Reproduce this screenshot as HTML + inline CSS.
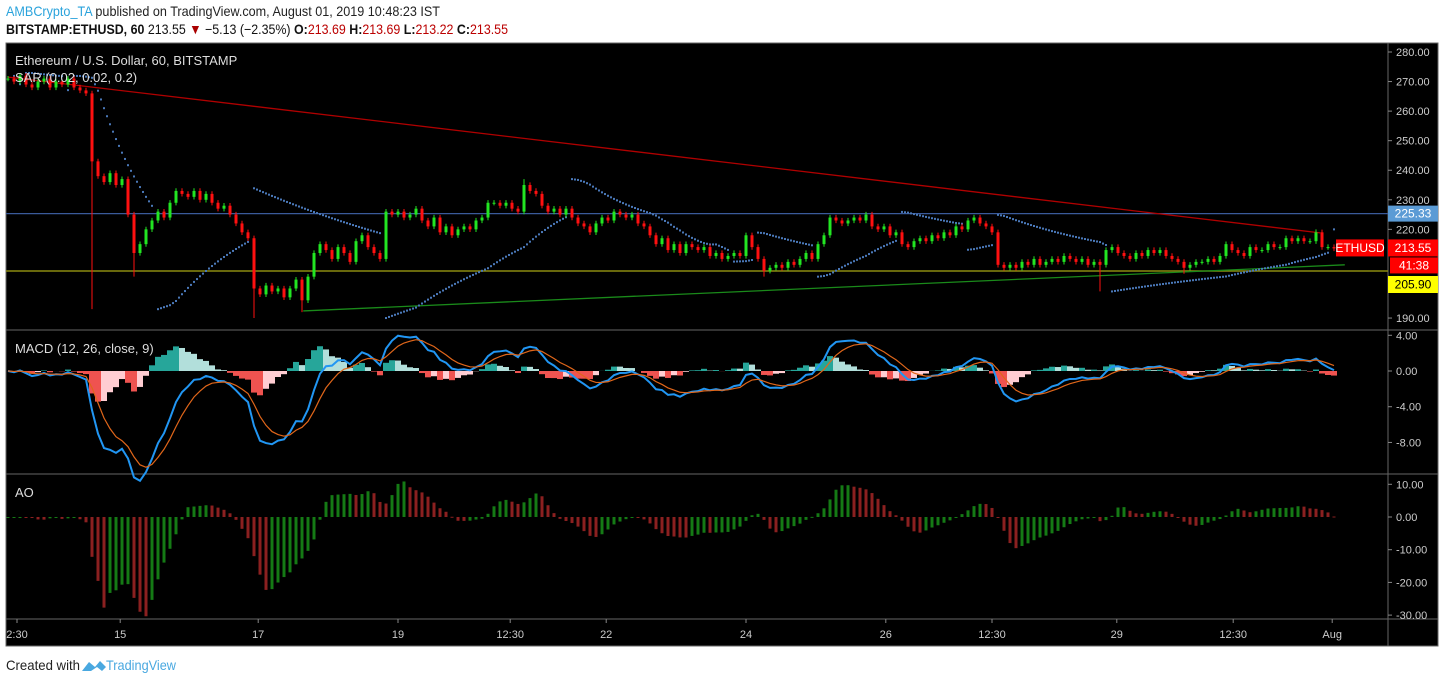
<!DOCTYPE html>
<html><head><meta charset="utf-8"><style>
html,body{margin:0;padding:0;background:#fff;width:1444px;height:683px;overflow:hidden}
svg text{font-family:"Liberation Sans",sans-serif}
</style></head><body>
<svg id="chart" width="1444" height="683" viewBox="0 0 1444 683" xmlns="http://www.w3.org/2000/svg">
<rect x="0" y="0" width="1444" height="683" fill="#fff"/>
<text x="6" y="16" font-size="14" fill="#222" textLength="434" lengthAdjust="spacingAndGlyphs"><tspan fill="#2aa3dc">AMBCrypto_TA</tspan> published on TradingView.com, August 01, 2019 10:48:23 IST</text>
<text x="6" y="34" font-size="14" fill="#111" textLength="502" lengthAdjust="spacingAndGlyphs"><tspan font-weight="bold">BITSTAMP:ETHUSD, 60</tspan> 213.55 <tspan fill="#a00">▼</tspan> −5.13 (−2.35%) <tspan font-weight="bold">O:</tspan><tspan fill="#b00">213.69</tspan> <tspan font-weight="bold">H:</tspan><tspan fill="#b00">213.69</tspan> <tspan font-weight="bold">L:</tspan><tspan fill="#b00">213.22</tspan> <tspan font-weight="bold">C:</tspan><tspan fill="#b00">213.55</tspan></text>
<rect x="6" y="43" width="1432" height="603" fill="#000" stroke="#666" stroke-width="1"/>
<g id="grid"></g>
<g id="marks"></g>
<g id="overlay"></g>
<text x="15" y="65" font-size="13" fill="#ddd">Ethereum / U.S. Dollar, 60, BITSTAMP</text>
<text x="15" y="82" font-size="13" fill="#ddd">SAR (0.02, 0.02, 0.2)</text>
<text x="15" y="353" font-size="13" fill="#ddd">MACD (12, 26, close, 9)</text>
<text x="15" y="497" font-size="13" fill="#ddd">AO</text>
<text x="6" y="670" font-size="14" fill="#222" textLength="74" lengthAdjust="spacingAndGlyphs">Created with</text>
<path d="M82 671 L89 662 L95 667 L100 661 L106 667 L102 671 L97 667 L91 671 Z" fill="#49a8e0"/>
<text x="106" y="670" font-size="14" fill="#49a8e0" textLength="70" lengthAdjust="spacingAndGlyphs">TradingView</text>
</svg>
<script>
const closes=[271,270,272,269,268,270,271,268,270,269,271,268,267,266,
243,238,236,239,235,237,225,212,215,220,223,226,224,229,233,232,
231,233,230,232,229,227,228,225,222,219,217,200,198,201,199,200,
197,200,203,196,204,212,215,213,210,214,212,209,216,218,214,212,
210,226,225,226,224,225,227,223,221,224,219,221,218,220,221,220,
223,224,229,229,228,229,227,226,235,233,232,228,226,227,225,227,
224,222,221,219,222,224,223,226,225,224,225,222,221,218,215,217,
213,215,212,215,214,213,214,211,212,210,211,212,211,218,214,210,
206,207,208,207,209,208,210,212,210,215,218,224,223,222,223,224,
223,225,221,220,221,218,219,215,214,216,217,216,218,217,219,218,
221,220,223,224,222,221,219,208,207,208,207,209,208,210,208,209,
210,209,211,210,209,210,208,209,208,213,214,212,211,210,212,211,
213,212,213,211,210,209,207,208,209,209,210,209,211,215,213,212,
211,214,213,213,215,214,214,217,216,217,216,216,219,214,214,213.55];
const lowOverrides={14:193,21:204,41:190,49:192,126:204,182:199,196:205};
const highOverrides={86:237,218:220};
const priceTicks=[280,270,260,250,240,230,220,200,190];
const macdTicks=[4,0,-4,-8];
const aoTicks=[10,0,-10,-20,-30];
const timeLabels=["2:30","15","17","19","12:30","22","24","26","12:30","29","12:30","Aug"];
const timeIdx=[1.5,18.7,41.7,65,83.7,99.7,123,146.3,164,184.8,204.2,220.7];
const hLevels=[225.33,205.9];
const redTrend=[[0,271.5],[218.7,218.8]];
const greenTrend=[[49.2,192.4],[222.8,208]];

const NS="http://www.w3.org/2000/svg";
const X=i=>8+i*6;
const YP=p=>52+(280-p)*2.956;
const YM=v=>371-v*8.93;
const YA=v=>517-v*3.27;
const marks=document.getElementById('marks'),grid=document.getElementById('grid'),ov=document.getElementById('overlay');
function el(tag,attrs,parent){const e=document.createElementNS(NS,tag);for(const k in attrs)e.setAttribute(k,attrs[k]);parent.appendChild(e);return e;}

const opens=closes.map((c,i)=>i?closes[i-1]:c);
const highs=closes.map((c,i)=>highOverrides[i]!==undefined?highOverrides[i]:Math.max(c,opens[i])+0.9);
const lows=closes.map((c,i)=>lowOverrides[i]!==undefined?lowOverrides[i]:Math.min(c,opens[i])-0.9);

el('line',{x1:1388,y1:43,x2:1388,y2:646,stroke:'#666'},grid);
[330,474,619].forEach(y=>el('line',{x1:6,y1:y,x2:1438,y2:y,stroke:'#666'},grid));
function tick(y,txt,name){
  el('line',{x1:1388,y1:y,x2:1392,y2:y,stroke:'#888'},grid);
  const t=el('text',{x:1396,y:y+4,'font-size':11,fill:'#ccc'},grid);t.textContent=txt;
  
  
}
priceTicks.forEach(p=>tick(YP(p),p.toFixed(2),'price-tick-label'));
macdTicks.forEach(v=>tick(YM(v),v.toFixed(2),'macd-tick-label'));
aoTicks.forEach(v=>tick(YA(v),v.toFixed(2),'ao-tick-label'));
timeLabels.forEach((s,k)=>{
  const x=X(timeIdx[k]);
  el('line',{x1:x,y1:619,x2:x,y2:623,stroke:'#888'},grid);
  const t=el('text',{x:x,y:638,'font-size':11,fill:'#ccc','text-anchor':'middle'},grid);t.textContent=s;
  
  
});

const hl1=el('line',{x1:6,x2:1388,y1:YP(hLevels[0]),y2:YP(hLevels[0]),stroke:'#3a5a9a','stroke-width':1.2},marks);


const hl2=el('line',{x1:6,x2:1388,y1:YP(hLevels[1]),y2:YP(hLevels[1]),stroke:'#8a8a10','stroke-width':1.5},marks);


const rt=el('line',{x1:X(redTrend[0][0]),y1:YP(redTrend[0][1]),x2:X(redTrend[1][0]),y2:YP(redTrend[1][1]),stroke:'#b00000','stroke-width':1.3},marks);


const gt=el('line',{x1:X(greenTrend[0][0]),y1:YP(greenTrend[0][1]),x2:X(greenTrend[1][0]),y2:YP(greenTrend[1][1]),stroke:'#1a8a1a','stroke-width':1.3},marks);



// SAR (dots drawn at each bar plus midpoint for hourly density)
(function(){
  let up=false,af=0.02,ep=lows[0],sar=highs[0];
  const pts=[];
  for(let i=1;i<closes.length;i++){
    sar=sar+af*(ep-sar);
    let flip=false;
    if(up){sar=Math.min(sar,lows[i-1]);if(lows[i]<sar){up=false;sar=ep;ep=lows[i];af=0.02;flip=true;}else if(highs[i]>ep){ep=highs[i];af=Math.min(0.2,af+0.02);}}
    else{sar=Math.max(sar,highs[i-1]);if(highs[i]>sar){up=true;sar=ep;ep=highs[i];af=0.02;flip=true;}else if(lows[i]<ep){ep=lows[i];af=Math.min(0.2,af+0.02);}}
    pts.push([i,sar,flip]);
  }
  pts.forEach((p,k)=>{
    const list=[[p[0],p[1]]];
    if(k>0&&!p[2])list.unshift([p[0]-0.5,(p[1]+pts[k-1][1])/2]);
    list.forEach(q=>{
      const y=YP(q[1]);if(y<45||y>328)return;
      const d=el('rect',{x:X(q[0])-1,y:y-1,width:2,height:2,fill:'#4a78b8'},marks);
      
      
    });
  });
})();

closes.forEach((c,i)=>{
  const o=opens[i],col=c>=o?'#22e622':'#ff1010',x=X(i);
  const w=el('line',{x1:x,x2:x,y1:YP(highs[i]),y2:YP(lows[i]),stroke:col,'stroke-width':1},marks);
  
  
  const yt=YP(Math.max(o,c)),yb=YP(Math.min(o,c));
  const b=el('rect',{x:x-1.5,y:yt,width:3,height:Math.max(1,yb-yt),fill:col},marks);
  
  
});

function ema(a,n){const k=2/(n+1);const r=[];a.forEach((v,i)=>r.push(i?v*k+r[i-1]*(1-k):v));return r;}
const f=ema(closes,6),s=ema(closes,13);
const macd=f.map((v,i)=>v-s[i]);
const sig=ema(macd,5);
const hist=macd.map((v,i)=>v-sig[i]);
hist.forEach((h,i)=>{
  const prev=i?hist[i-1]:0;
  let col=h>=0?(h>=prev?'#26a69a':'#b2dfdb'):(h<prev?'#ef5350':'#ffcdd2');
  const y0=YM(0),y1=YM(h);
  const r=el('rect',{x:X(i)-3,y:Math.min(y0,y1),width:6,height:Math.abs(y1-y0),fill:col},marks);
  
  
});
const ml=el('polyline',{points:macd.map((v,i)=>X(i)+','+YM(v)).join(' '),fill:'none',stroke:'#2196f3','stroke-width':2},marks);


const sl=el('polyline',{points:sig.map((v,i)=>X(i)+','+YM(v)).join(' '),fill:'none',stroke:'#e0661a','stroke-width':1.2},marks);



const med=closes.map((c,i)=>(highs[i]+lows[i])/2);
function sma(a,n,i){let s=0,c=0;for(let j=Math.max(0,i-n+1);j<=i;j++){s+=a[j];c++;}return s/c;}
const ao=med.map((v,i)=>sma(med,3,i)-sma(med,17,i));
ao.forEach((v,i)=>{
  const col=(i&&v<ao[i-1])?'#8b2020':'#157a15';
  const y0=YA(0),y1=YA(v);
  const r=el('rect',{x:X(i)-1.5,y:Math.min(y0,y1),width:3,height:Math.max(1,Math.abs(y1-y0)),fill:col},marks);
  
  
});

function label(x,y,w,h,bg,fg,txt,name){
  const r=el('rect',{x:x,y:y,width:w,height:h,fill:bg},ov);
  
  
  const t=el('text',{x:x+w/2,y:y+h/2+4,'font-size':12,fill:fg,'text-anchor':'middle'},ov);t.textContent=txt;
  
  
}
label(1388,YP(hLevels[0])-8,50,16,'#5b9bd5','#fff','225.33','resistance-price-label');
label(1336,YP(213.55)-9,48,17,'#ff0000','#fff','ETHUSD','symbol-label');
label(1388,YP(213.55)-9,50,17,'#ff0000','#fff','213.55','last-price-label');
label(1390,YP(213.55)+9,48,16,'#ff0000','#fff','41:38','bar-countdown-label');
label(1388,276,50,17,'#ffff00','#000','205.90','support-price-label');
</script>
</body></html>
